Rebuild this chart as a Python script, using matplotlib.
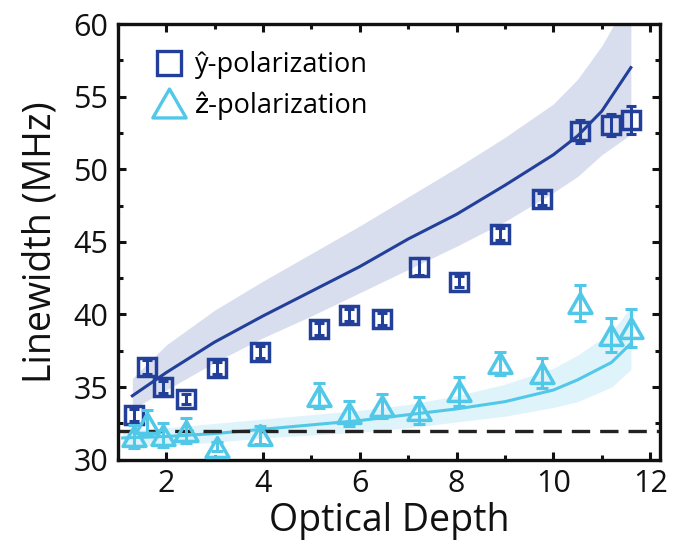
import matplotlib
matplotlib.use("Agg")
import matplotlib.pyplot as plt
from matplotlib.path import Path
from matplotlib.lines import Line2D
from matplotlib.ticker import MultipleLocator

plt.rcParams['font.family'] = ['Open Sans', 'DejaVu Sans']

# ---- data ----
y_od = [1.33, 1.60, 1.94, 2.40, 3.04, 3.93, 5.16, 5.77, 6.46, 7.23, 8.04, 8.90, 9.76, 10.54, 11.19, 11.61]
y_lw = [33.1, 36.4, 35.0, 34.2, 36.3, 37.4, 39.0, 39.95, 39.7, 43.3, 42.27, 45.55, 47.95, 52.6, 53.05, 53.4]
y_err = [0.4, 0.5, 0.4, 0.35, 0.4, 0.4, 0.4, 0.4, 0.4, 0.6, 0.4, 0.4, 0.4, 0.76, 0.78, 0.95]

z_od = [1.33, 1.60, 1.94, 2.40, 3.04, 3.93, 5.16, 5.77, 6.46, 7.22, 8.04, 8.90, 9.76, 10.54, 11.18, 11.60]
z_lw = [31.6, 32.5, 31.7, 32.0, 30.9, 31.7, 34.4, 33.2, 33.7, 33.4, 34.7, 36.65, 36.0, 40.8, 38.6, 39.06]
z_err = [0.8, 0.9, 0.8, 0.85, 0.3, 0.6, 0.86, 0.86, 0.86, 0.92, 0.97, 0.8, 1.03, 1.24, 1.15, 1.3]

thy_od = [1.3, 2, 3, 4, 5, 6, 7, 8, 9, 10, 10.5, 11, 11.6]
thy_mid = [34.4, 36.0, 38.1, 39.9, 41.6, 43.3, 45.2, 46.9, 48.9, 51.0, 52.3, 54.0, 57.0]
thy_hi = [35.6, 37.9, 40.3, 42.3, 44.2, 46.1, 48.1, 50.1, 52.2, 54.5, 56.2, 58.5, 62.0]
thy_lo = [33.5, 34.8, 36.7, 38.4, 39.9, 41.5, 43.1, 44.7, 46.4, 48.4, 49.5, 51.0, 52.4]

thz_od = [1.1, 2, 3, 4, 5, 6, 7, 8, 9, 10, 10.5, 11.2, 11.6]
thz_mid = [31.5, 31.6, 31.8, 32.1, 32.4, 32.7, 33.1, 33.5, 34.0, 34.8, 35.5, 36.7, 38.0]
thz_hi = [32.0, 32.2, 32.5, 32.8, 33.1, 33.4, 33.8, 34.4, 35.2, 36.3, 37.2, 38.8, 40.5]
thz_lo = [30.9, 31.0, 31.2, 31.5, 31.7, 31.9, 32.2, 32.6, 33.0, 33.6, 34.0, 35.0, 36.2]

natural_lw = 32.0
labels = ['\u0177-polarization', '\u1e91-polarization']

# ---- style ----
c_blue = '#22409a'
c_cyan = '#52c8e8'
c_blue_band = '#d9deee'
c_cyan_band = '#dff3fb'
c_axis = '#111111'

tri = Path([(0, 0.5), (-0.577, -0.5), (0.577, -0.5), (0, 0.5)],
           [Path.MOVETO, Path.LINETO, Path.LINETO, Path.CLOSEPOLY])

fig = plt.figure(figsize=(6.81, 5.46), dpi=100)
ax = fig.add_axes([0.173, 0.158, 0.796, 0.798])

ax.fill_between(thy_od, thy_lo, thy_hi, color=c_blue_band, lw=0, zorder=1)
ax.fill_between(thz_od, thz_lo, thz_hi, color=c_cyan_band, lw=0, zorder=1)
ax.plot(thy_od, thy_mid, color=c_blue, lw=2.2, zorder=2)
ax.plot(thz_od, thz_mid, color=c_cyan, lw=2.2, zorder=2)
ax.axhline(natural_lw, color='#222222', lw=2.4, dashes=(5.5, 3), zorder=2)

ax.errorbar(y_od, y_lw, yerr=y_err, fmt='none', ecolor=c_blue, elinewidth=2.2,
            capsize=3.5, capthick=2.2, zorder=3)
ax.plot(y_od, y_lw, ls='none', marker='s', ms=12.5, mfc='none', mec=c_blue,
        mew=2.5, zorder=3)
ax.errorbar(z_od, z_lw, yerr=z_err, fmt='none', ecolor=c_cyan, elinewidth=2.2,
            capsize=4.5, capthick=2.2, zorder=4)
ax.plot(z_od, z_lw, ls='none', marker=tri, ms=16.5, mfc='none', mec=c_cyan,
        mew=2.5, zorder=4)

ax.set_xlim(1, 12.2)
ax.set_ylim(30, 60)
ax.xaxis.set_major_locator(MultipleLocator(2))
ax.xaxis.set_minor_locator(MultipleLocator(1))
ax.yaxis.set_major_locator(MultipleLocator(5))
ax.yaxis.set_minor_locator(MultipleLocator(2.5))
ax.tick_params(which='both', direction='in', top=True, right=True, width=2.2,
               labelsize=22, pad=7, colors=c_axis)
ax.tick_params(which='major', length=6)
ax.tick_params(which='minor', length=3.5)
for s in ax.spines.values():
    s.set_linewidth(2.4)
    s.set_color(c_axis)

ax.set_xlabel('Optical Depth', fontsize=27, labelpad=2, color=c_axis)
ax.set_ylabel('Linewidth (MHz)', fontsize=27, labelpad=10, color=c_axis)

handles = [
    Line2D([], [], ls='none', marker='s', ms=17, mfc='none', mec=c_blue, mew=2.4),
    Line2D([], [], ls='none', marker=tri, ms=24, mfc='none', mec=c_cyan, mew=2.4),
]
ax.legend(handles, labels, loc='upper left', frameon=False, fontsize=19.5,
          handletextpad=0.25, handlelength=1.4, labelspacing=0.45,
          bbox_to_anchor=(0.03, 0.975), borderaxespad=0.2)

fig.savefig('out.png', dpi=100)
